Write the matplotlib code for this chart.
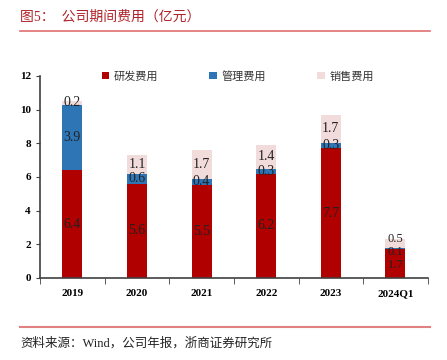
import numpy as np
import matplotlib.pyplot as plt

# data (亿元)
years = ['2019', '2020', '2021', '2022', '2023', '2024Q1']
rd = [6.4, 5.6, 5.5, 6.2, 7.7, 1.7]
admin = [3.9, 0.6, 0.4, 0.3, 0.3, 0.1]
sales = [0.2, 1.1, 1.7, 1.4, 1.7, 0.5]
names = ['研发费用', '管理费用', '销售费用']
colors = ['#b00000', '#2e75b6', '#f2dcdb']

plt.rcParams['font.family'] = ['Liberation Serif', 'Noto Sans CJK SC']

fig = plt.figure(figsize=(4.47, 3.6), dpi=100)
ax = fig.add_axes([0.0895, 0.228, 0.8675, 0.561])

x = np.arange(len(years))
w = 0.31
bottom = np.zeros(len(years))
for vals, name, c in zip([rd, admin, sales], names, colors):
    vals = np.array(vals)
    ax.bar(x, vals, w, bottom=bottom, color=c, label=name)
    for xi, b, v in zip(x, bottom, vals):
        y = b + v / 2
        fs = 10
        # 2024Q1 segments are too thin, spread their labels a little
        if xi == 5:
            fs = 9
            y = {'研发费用': y - 0.1, '管理费用': y - 0.22, '销售费用': y + 0.28}[name]
        ax.text(xi, y, f'{v:.1f}', ha='center', va='center',
                fontsize=fs, color='#222222')
    bottom += vals

ax.set_xlim(-0.5, len(years) - 0.5)
ax.set_ylim(0, 12)
ax.set_yticks(range(0, 13, 2))
ax.set_xticks(x)
ax.set_xticklabels(years, fontweight='bold', fontsize=8)
ax.set_xticks(np.arange(-0.5, len(years)), minor=True)
ax.tick_params(axis='x', which='major', length=0, pad=8)
ax.tick_params(axis='x', which='minor', length=4, direction='out', color='#404040')
ax.tick_params(axis='y', length=3, direction='out', color='#404040', labelsize=8)
for lab in ax.get_yticklabels():
    lab.set_fontweight('bold')
for s in ['top', 'right']:
    ax.spines[s].set_visible(False)
for s in ['left', 'bottom']:
    ax.spines[s].set_color('#404040')
    ax.spines[s].set_linewidth(1.2)

leg = ax.legend(loc='center', bbox_to_anchor=(0.51, 1.0), ncol=3, frameon=False,
                fontsize=8, handlelength=0.7, handleheight=0.7, handletextpad=0.4,
                columnspacing=4.6)
for t in leg.get_texts():
    t.set_color('#333333')

# title and source with red rules
fig.text(0.045, 0.953, '图5：  公司期间费用（亿元）', color='#b0232a', fontsize=10,
         va='center', ha='left')
fig.add_artist(plt.Line2D([0.045, 0.962], [0.914, 0.914], color='#e07070', lw=1.2))
fig.add_artist(plt.Line2D([0.045, 0.962], [0.093, 0.093], color='#e08080', lw=1.5))
fig.text(0.045, 0.047, '资料来源：Wind，公司年报，浙商证券研究所', fontsize=9,
         va='center', ha='left', color='#222222')

plt.savefig('out.png', dpi=100)
